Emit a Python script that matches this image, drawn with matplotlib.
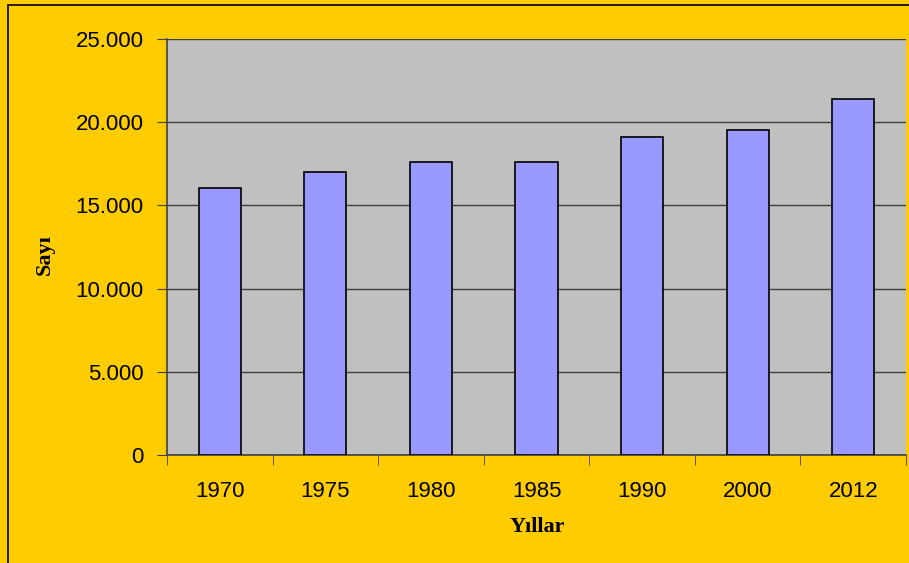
import matplotlib
matplotlib.use("Agg")
import matplotlib.pyplot as plt
from matplotlib.patches import Rectangle
from matplotlib.ticker import FuncFormatter

years = ["1970", "1975", "1980", "1985", "1990", "2000", "2012"]
counts = [16030, 17010, 17630, 17630, 19110, 19540, 21390]
y_ticks = [0, 5000, 10000, 15000, 20000, 25000]

fig = plt.figure(figsize=(9.09, 5.63), dpi=100)
fig.patch.set_facecolor("#FFCC00")

# figure border (cropped on right/bottom in the reference)
fig.patches.append(Rectangle((8 / 909, -0.05), 1.2, 1 - 5 / 563 + 0.05,
                             transform=fig.transFigure, fill=False,
                             edgecolor="black", linewidth=1.2))

ax = fig.add_axes([167 / 909, 1 - 455 / 563, 739 / 909, 416 / 563])
ax.set_facecolor("#C0C0C0")

x = range(len(years))
ax.bar(x, counts, width=0.4, color="#9999FF", edgecolor="black", linewidth=1.2, zorder=3)

ax.set_xlim(-0.5, len(years) - 0.5)
ax.set_ylim(0, 25000)
ax.set_yticks(y_ticks)
ax.yaxis.set_major_formatter(FuncFormatter(lambda v, p: f"{int(v):,}".replace(",", ".")))
ax.set_xticks(list(x))
ax.set_xticklabels(years)
ax.set_xticks([i - 0.5 for i in range(len(years) + 1)], minor=True)

ax.grid(axis="y", color="#404040", linewidth=1.0, zorder=1)
ax.tick_params(axis="x", which="major", length=0, pad=19, labelsize=16)
ax.tick_params(axis="x", which="minor", length=7, color="#404040")
ax.tick_params(axis="y", length=7, pad=10, labelsize=16, color="#404040")

for s in ["top", "right"]:
    ax.spines[s].set_visible(False)
for s in ["left", "bottom"]:
    ax.spines[s].set_color("#404040")
    ax.spines[s].set_linewidth(1.2)

for lab in ax.get_xticklabels() + ax.get_yticklabels():
    lab.set_fontfamily("Liberation Sans")

fig.text(537 / 909, 1 - 527 / 563, "Yıllar", ha="center", va="center",
         fontsize=16, fontweight="bold", family="Liberation Serif")
fig.text(45 / 909, 1 - 255 / 563, "Sayı", ha="center", va="center", rotation=90,
         fontsize=16, fontweight="bold", family="Liberation Serif")

fig.savefig("out.png", dpi=100, facecolor=fig.get_facecolor())
